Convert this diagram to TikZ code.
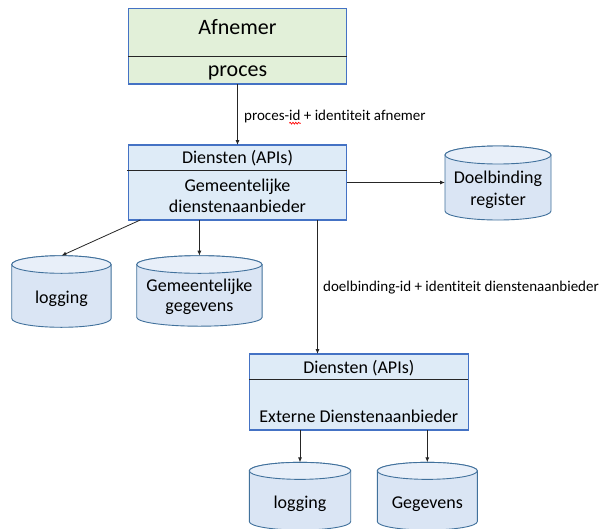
\documentclass[tikz,border=0pt]{standalone}
\usepackage{fontspec}
\setmainfont{Carlito}[Ligatures=NoCommon]
\usetikzlibrary{arrows.meta,decorations.pathmorphing}
\definecolor{boxgreen}{HTML}{E2F0D9}
\definecolor{boxblue}{HTML}{DEEBF7}
\definecolor{boxborder}{HTML}{4472C4}
\definecolor{cylborder}{HTML}{41719C}
\definecolor{cylbodyc}{HTML}{DAE5F4}
\definecolor{cyltopc}{HTML}{E8EFF9}
\definecolor{linec}{HTML}{262626}
\newcommand{\mkcyl}[3]{%
  \path[cylbody] ([yshift=-#3]#1.north west) -- ([yshift=#3]#1.south west)
    arc[start angle=180, end angle=360, x radius=#2, y radius=#3]
    -- ([yshift=-#3]#1.north east)
    arc[start angle=0, end angle=180, x radius=#2, y radius=#3] -- cycle;
  \path[cyltop] ([yshift=-#3]#1.north) ellipse[x radius=#2, y radius=#3];
}
\tikzset{
  umlbox/.style={draw=boxborder, line width=1.1pt, rectangle, inner sep=0pt, outer sep=0pt},
  cylframe/.style={rectangle, inner sep=0pt, outer sep=0pt},
  cylbody/.style={draw=cylborder, fill=cylbodyc, line width=0.9pt},
  cyltop/.style={draw=cylborder, fill=cyltopc, line width=0.9pt},
  divider/.style={draw=linec, line width=1pt},
  conn/.style={draw=linec, line width=0.8pt, -{Latex[length=5pt,width=4pt]}},
  squig/.style={draw=red, line width=0.7pt, decorate, decoration={snake, amplitude=0.9pt, segment length=2.8pt}},
  bigtxt/.style={anchor=base, inner sep=0pt, font=\fontsize{22}{26}\selectfont},
  midtxt/.style={anchor=base, inner sep=0pt, font=\fontsize{18}{21}\selectfont},
  lbltxt/.style={anchor=base west, inner sep=0pt, font=\fontsize{15}{18}\selectfont},
}
\begin{document}
\begin{tikzpicture}[x=1pt, y=1pt]
\useasboundingbox[fill=white] (0,0) rectangle (600,-528);

% Afnemer box
\node[umlbox, fill=boxgreen, minimum width=218.4pt, minimum height=75.5pt] (afn) at (237.5,-46.25) {};
\draw[divider] (afn.west |- 0,-56) -- (afn.east |- 0,-56);
\node[bigtxt] (afnt) at (237.5,-34) {Afnemer};
\node[bigtxt] (proct) at (237.5,-76) {proces};

% Diensten box 1
\node[umlbox, fill=boxblue, minimum width=218.4pt, minimum height=75pt] (d1) at (237.5,-182.5) {};
\draw[divider] ([xshift=-1.5pt]d1.west |- 0,-170) -- (d1.east |- 0,-170);
\node[midtxt] (d1a) at (237.5,-163.3) {Diensten (APIs)};
\node[midtxt] (d1b) at (237.5,-191.7) {Gemeentelijke};
\node[midtxt] (d1c) at (237.5,-212.7) {dienstenaanbieder};

% Diensten box 2
\node[umlbox, fill=boxblue, minimum width=219pt, minimum height=76pt] (d2) at (358.8,-392) {};
\draw[divider] (d2.west |- 0,-379.3) -- (d2.east |- 0,-379.3);
\node[midtxt] (d2a) at (358.8,-373.3) {Diensten (APIs)};
\node[midtxt] (d2b) at (358.8,-422.3) {Externe Dienstenaanbieder};

% Cylinders
\node[cylframe, minimum width=106pt, minimum height=74pt] (doel) at (498,-183) {};
\mkcyl{doel}{53pt}{9pt}
\node[midtxt] (doelt1) at (498,-183) {Doelbinding};
\node[midtxt] (doelt2) at (498,-205) {register};

\node[cylframe, minimum width=99.3pt, minimum height=71.6pt] (log1) at (61.4,-291.5) {};
\mkcyl{log1}{49.65pt}{8.8pt}
\node[midtxt] (log1t) at (61.4,-303.3) {logging};

\node[cylframe, minimum width=125.3pt, minimum height=70.5pt] (geg1) at (199.4,-290.95) {};
\mkcyl{geg1}{62.65pt}{8.8pt}
\node[midtxt] (geg1a) at (199.4,-291) {Gemeentelijke};
\node[midtxt] (geg1b) at (199.4,-311.7) {gegevens};

\node[cylframe, minimum width=101.4pt, minimum height=67.7pt] (log2) at (300,-496.2) {};
\mkcyl{log2}{50.7pt}{8.5pt}
\node[midtxt] (log2t) at (300,-508.3) {logging};

\node[cylframe, minimum width=100pt, minimum height=67.7pt] (geg2) at (427.3,-496.2) {};
\mkcyl{geg2}{50pt}{8.5pt}
\node[midtxt] (geg2t) at (427.3,-508.3) {Gegevens};

% Connectors
\draw[conn] (afn.south) -- (d1.north);
\node[lbltxt] (lab1) at (244,-120) {proces-id + identiteit afnemer};
\draw[squig] ([xshift=45.3pt, yshift=-3.2pt]lab1.base west) -- ([xshift=56.8pt, yshift=-3.2pt]lab1.base west);
\draw[conn] (d1.east) -- (d1.east -| doel.west);
\draw[conn] ([xshift=12pt]d1.south west) -- (log1.north);
\draw[conn] (d1.south -| geg1.north) -- (geg1.north);
\draw[conn] ([xshift=80pt]d1.south) -- ([xshift=80pt]d1.south |- d2.north);
\node[lbltxt] (lab2) at (323,-291.7) {doelbinding-id + identiteit dienstenaanbieder};
\draw[conn] (d2.south -| log2.north) -- (log2.north);
\draw[conn] (d2.south -| geg2.north) -- (geg2.north);
\end{tikzpicture}
\end{document}
